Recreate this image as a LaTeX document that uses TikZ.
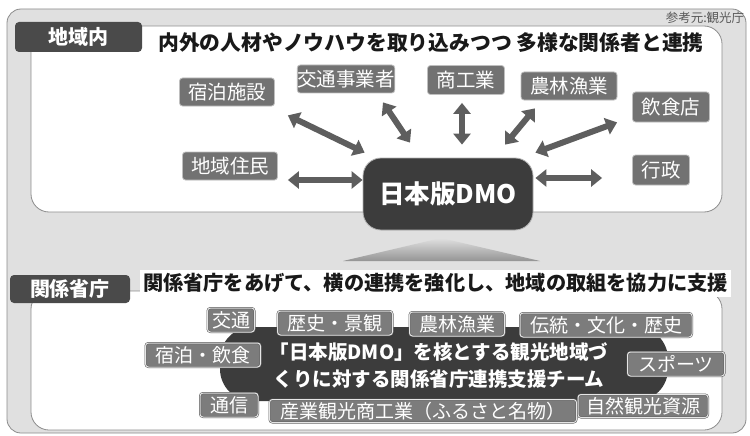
\documentclass[tikz,border=0pt]{standalone}
\usepackage{fontspec}
\setmainfont{Noto Sans CJK JP}
\usetikzlibrary{arrows.meta,calc,shapes.misc}
\definecolor{bgg}{HTML}{E0E0E0}
\definecolor{frameg}{HTML}{8C8C8C}
\definecolor{hdrg}{HTML}{4A4A4A}
\definecolor{nodeg}{HTML}{727272}
\definecolor{dmog}{HTML}{3C3C3C}
\definecolor{arrg}{HTML}{5E5E5E}
\definecolor{tagg}{HTML}{7C7C7C}
\tikzset{
  panel/.style={fill=white,draw=frameg,line width=0.8pt,rounded corners=18pt},
  hdr/.style={fill=hdrg,rounded corners=4pt,text=white,inner sep=0pt,font=\fontsize{20}{22}\selectfont\bfseries},
  ttl/.style={text=black!90,inner sep=0pt,font=\fontsize{20.8}{22}\selectfont\bfseries},
  unode/.style={fill=nodeg,draw=white!75!black,line width=0.8pt,rounded corners=3pt,text=white,inner sep=0pt,font=\fontsize{19.5}{22}\selectfont},
  tagbox/.style={fill=tagg,draw=black!65,double=white!90!black,line width=0.5pt,double distance=1pt,rounded corners=3pt,text=white,inner sep=0pt,minimum height=24pt,font=\fontsize{19}{22}\selectfont},
  biarrow/.style={draw=arrg,line width=6pt,{Triangle[width=17pt,length=11pt]}-{Triangle[width=17pt,length=11pt]}}
}
\begin{document}
\begin{tikzpicture}[x=1pt,y=-1pt]
\useasboundingbox (0,0) rectangle (750,436);
% outer frame
\draw[fill=bgg,draw=frameg,line width=0.8pt,rounded corners=14pt] (7,9) rectangle (746,433);
% upper panel
\draw[panel] (31,26) rectangle (722,212);
\node[hdr,minimum width=127pt,minimum height=30pt] (hdrA) at (78.5,37) {地域内};
\node[ttl] (ttlA) at (431,43) {内外の人材やノウハウを取り込みつつ 多様な関係者と連携};
\node[inner sep=0pt,text=black!65,font=\fontsize{12.5}{14}\selectfont] (src) at (705,18) {参考元:観光庁};
% nodes upper
\node[unode,minimum width=95pt,minimum height=28pt] (shuku) at (227,92) {宿泊施設};
\node[unode,minimum width=97pt,minimum height=28pt] (kotsu) at (346,79) {交通事業者};
\node[unode,minimum width=77pt,minimum height=29pt] (shoko) at (466,80) {商工業};
\node[unode,minimum width=96pt,minimum height=28pt] (norin) at (569,86) {農林漁業};
\node[unode,minimum width=77pt,minimum height=30pt] (inshoku) at (671,107) {飲食店};
\node[unode,minimum width=95pt,minimum height=28pt] (jumin) at (230,166) {地域住民};
\node[unode,minimum width=57pt,minimum height=30pt] (gyosei) at (661,170) {行政};
% triangle
\shade[top color=white!88!black,bottom color=black!42] (343,261) -- (441,238) -- (540,261) -- cycle;
% DMO
\node[fill=dmog,draw=white!70!black,line width=0.8pt,rounded corners=18pt,minimum width=170pt,minimum height=72pt,text=white,inner sep=0pt,font=\fontsize{25.5}{28}\selectfont\bfseries] (dmo) at (448,194) {日本版DMO};
% arrows
\draw[biarrow] ($(shuku.south east)+(13,9)$) -- ($(dmo.north west)+(2,-5)$);
\draw[biarrow] ($(kotsu.south)+(37,9)$) -- ($(dmo.north)+(-38,-15)$);
\draw[biarrow] ($(shoko.south)+(-4,8)$) -- ($(dmo.north)+(14,-13)$);
\draw[biarrow] ($(norin.south)+(-34,8)$) -- ($(dmo.north)+(57,-13)$);
\draw[biarrow] ($(inshoku.south west)+(-15,0)$) -- ($(dmo.north east)+(2,-5)$);
\draw[biarrow] ($(dmo.east)+(2,-16)$) -- ($(gyosei.west)+(-30,8)$);
\draw[biarrow] ($(jumin.east)+(10,14)$) -- ($(dmo.west)+(0,-14)$);
% lower panel
\draw[panel] (31,291) rectangle (722,430);
\fill[white] (140,270) rectangle (731,297);
\node[hdr,minimum width=120pt,minimum height=28pt] (hdrB) at (70,289) {関係省庁};
\node[ttl,font=\fontsize{20.2}{22}\selectfont\bfseries] (ttlB) at (435.5,283) {関係省庁をあげて、横の連携を強化し、地域の取組を協力に支援};
% blob
\node[fill=dmog,rounded corners=32pt,minimum width=448pt,minimum height=74pt,inner sep=0pt] (blob) at (444,364) {};
\node[text=white,align=center,inner sep=0pt,font=\fontsize{19.5}{27}\selectfont\bfseries] (blobtxt) at (439,366) {「日本版DMO」を核とする観光地域づ\\くりに対する関係省庁連携支援チーム};
% tags
\node[tagbox,minimum width=47pt] (tkotsu) at (231,320) {交通};
\node[tagbox,minimum width=115pt] (treki) at (335,323) {歴史・景観};
\node[tagbox,minimum width=95pt] (tnorin) at (457,324) {農林漁業};
\node[tagbox,minimum width=172pt] (tdento) at (606,325) {伝統・文化・歴史};
\node[tagbox,minimum width=115pt] (tshuku) at (203,355) {宿泊・飲食};
\node[tagbox,minimum width=97pt] (tsport) at (676,364) {スポーツ};
\node[tagbox,minimum width=58pt] (ttsushin) at (229,405) {通信};
\node[tagbox,minimum width=307pt,minimum height=23pt] (tsangyo) at (423,411) {産業観光商工業（ふるさと名物）};
\node[tagbox,minimum width=130pt,minimum height=23pt] (tshizen) at (643,406) {自然観光資源};
\end{tikzpicture}
\end{document}
